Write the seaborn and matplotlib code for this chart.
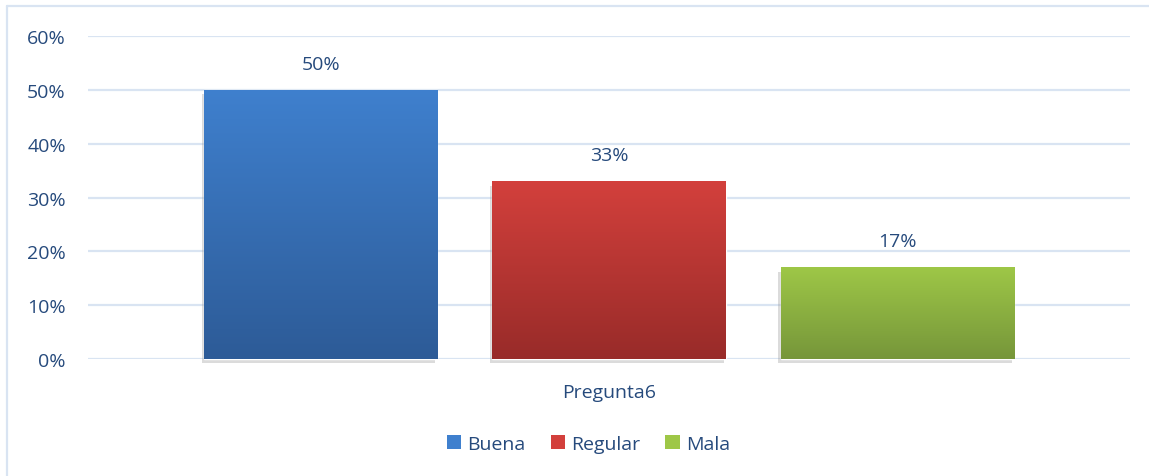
"""
Bar chart of answers to Pregunta6 (Buena / Regular / Mala)
- Excel-like look: gradient bars, light blue grid, dark blue text
- Saves out.png
"""

import numpy as np
import pandas as pd
import matplotlib
matplotlib.use("Agg")
import matplotlib.pyplot as plt
import matplotlib.patheffects as pe
from matplotlib.colors import LinearSegmentedColormap
from matplotlib.ticker import PercentFormatter
import seaborn as sns

# -----------------------------
# Data
# -----------------------------
question = ["Pregunta6"]
answers = ["Buena", "Regular", "Mala"]
shares = [0.50, 0.33, 0.17]

df = pd.DataFrame({
    "pregunta": question * len(answers),
    "respuesta": answers,
    "valor": shares,
})

# top / bottom colours of each gradient
top_colors = ["#3F80CE", "#D3403C", "#9EC747"]
bottom_colors = ["#2D5B97", "#982B29", "#76963A"]

text_color = "#264A7C"
grid_color = "#D9E4F2"

# -----------------------------
# Plot
# -----------------------------
sns.set_theme(style="white")
plt.rcParams["font.family"] = ["Open Sans", "DejaVu Sans"]

fig = plt.figure(figsize=(11.49, 4.77), dpi=100)
ax = fig.add_axes([0.0766, 0.2453, 0.9069, 0.6771])

sns.barplot(data=df, x="pregunta", y="valor", hue="respuesta",
            hue_order=answers, palette=top_colors, width=0.83, gap=0.19,
            legend=False, ax=ax, zorder=3)

ax.set_ylim(0, 0.6)
ax.set_xlim(-0.5, 0.5)
ax.set_yticks(np.arange(0, 0.61, 0.1))
ax.yaxis.set_major_formatter(PercentFormatter(1.0, decimals=0))
ax.grid(axis="y", color=grid_color, linewidth=1.6, zorder=0)
for s in ax.spines.values():
    s.set_visible(False)
ax.tick_params(axis="both", length=0, labelsize=14, colors=text_color)
ax.tick_params(axis="y", pad=16)
ax.tick_params(axis="x", pad=17)
ax.set_xlabel("")
ax.set_ylabel("")

# gradient fill + soft shadow for each bar
bars = [p for p in ax.patches if p.get_height() > 0]
bars = sorted(bars, key=lambda p: p.get_x())
for bar, c_top, c_bot, val in zip(bars, top_colors, bottom_colors, shares):
    x0, w, h = bar.get_x(), bar.get_width(), bar.get_height()
    bar.set_clip_on(False)
    bar.set_path_effects([pe.SimplePatchShadow(offset=(-1.5, -3), shadow_rgbFace="#999999", alpha=0.35),
                          pe.Normal()])
    cmap = LinearSegmentedColormap.from_list("g", [c_bot, c_top])
    grad = np.linspace(0, 1, 256).reshape(-1, 1)
    img = ax.imshow(grad, cmap=cmap, aspect="auto", origin="lower",
                    extent=(x0, x0 + w, 0, h), zorder=4)
    img.set_clip_path(bar)
    ax.text(x0 + w / 2, h + 0.032, f"{val:.0%}", ha="center", va="bottom",
            fontsize=14, color=text_color, zorder=5)

ax.set_xlim(-0.5, 0.5)
ax.set_ylim(0, 0.6)

# legend
handles = [plt.Rectangle((0, 0), 1, 1, facecolor=c, edgecolor="none") for c in top_colors]
fig.legend(handles, answers, loc="center", bbox_to_anchor=(0.512, 0.068), ncol=3,
           frameon=False, fontsize=14, labelcolor=text_color, handlelength=0.75,
           handleheight=0.75, handletextpad=0.3, columnspacing=1.3)

# chart border (left and top only)
fig.add_artist(plt.Line2D([0.0065, 0.0065], [0.0, 0.985], color=grid_color, linewidth=1.6,
                          transform=fig.transFigure))
fig.add_artist(plt.Line2D([0.0065, 1.0], [0.985, 0.985], color=grid_color, linewidth=1.6,
                          transform=fig.transFigure))

fig.savefig("out.png", dpi=100)
